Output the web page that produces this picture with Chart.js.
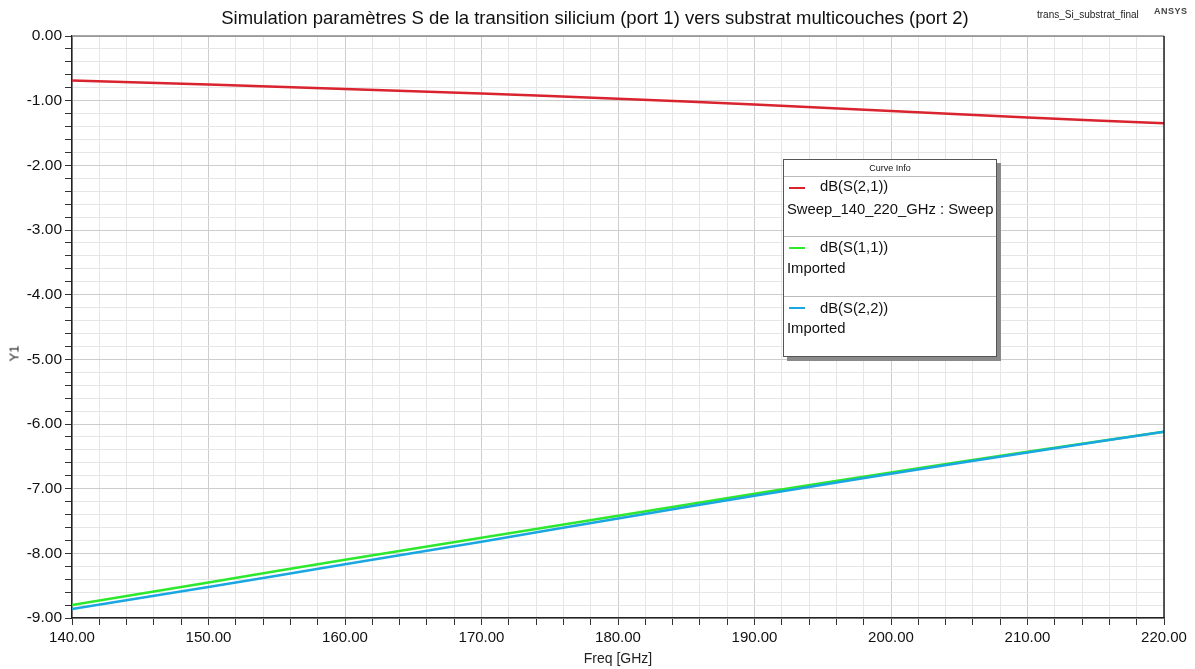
<!DOCTYPE html>
<html>
<head>
<meta charset="utf-8">
<script src="https://cdn.jsdelivr.net/npm/chart.js@4.4.0/dist/chart.umd.min.js"></script>
<style>
  html,body{margin:0;padding:0;background:#fff;}
  #wrap{position:relative;width:1195px;height:669px;font-family:"Liberation Sans",Arial,sans-serif;}
  #title{position:absolute;left:0;width:1190px;top:7px;text-align:center;font-size:18.5px;color:#111;}
  #proj{position:absolute;left:1037px;top:9px;font-size:10px;color:#222;}
  #ansys{position:absolute;left:1154px;top:6px;font-size:9px;font-weight:bold;color:#444;letter-spacing:0.5px;}
  #ylab{position:absolute;left:4px;top:346px;font-size:13px;color:#222;transform:rotate(-90deg);transform-origin:center;width:20px;text-align:center;}
  #legend{position:absolute;left:783px;top:159px;width:212px;height:196px;border:1px solid #555;background:#fff;box-shadow:4px 4px 0 #8a8a8a;color:#111;}
  #legend .hdr{position:absolute;left:0;width:212px;top:3px;text-align:center;font-size:9px;}
  #legend .sep{position:absolute;left:0;width:212px;height:1px;background:#bbb;}
  #legend .mk{position:absolute;left:5px;width:16px;height:2px;}
  #legend .t{position:absolute;font-size:14.8px;white-space:nowrap;}
  canvas{position:absolute;left:0;top:0;}
</style>
</head>
<body>
<div id="wrap">
  <canvas id="c" width="1195" height="669"></canvas>
  <div id="title">Simulation paramètres S de la transition silicium (port 1) vers substrat multicouches (port 2)</div>
  <div id="proj">trans_Si_substrat_final</div>
  <div id="ansys">ANSYS</div>
  <div id="ylab">Y1</div>
  <div id="legend">
    <div class="hdr">Curve Info</div>
    <div class="sep" style="top:16px"></div>
    <div class="mk" style="top:27px;background:#d9232e"></div>
    <div class="t" style="left:36px;top:18px">dB(S(2,1))</div>
    <div class="t" style="left:3px;top:41px">Sweep_140_220_GHz : Sweep</div>
    <div class="sep" style="top:76px"></div>
    <div class="mk" style="top:87px;background:#2ee82e"></div>
    <div class="t" style="left:36px;top:79px">dB(S(1,1))</div>
    <div class="t" style="left:3px;top:100px">Imported</div>
    <div class="sep" style="top:136px"></div>
    <div class="mk" style="top:147px;background:#1aa6e0"></div>
    <div class="t" style="left:36px;top:140px">dB(S(2,2))</div>
    <div class="t" style="left:3px;top:160px">Imported</div>
  </div>
</div>
<script>
const freqs = [140, 150, 160, 170, 180, 190, 200, 210, 220];
const s21 = [-0.69, -0.75, -0.82, -0.89, -0.97, -1.06, -1.16, -1.26, -1.35];
const s11 = [-8.80, -8.45, -8.10, -7.76, -7.42, -7.08, -6.75, -6.43, -6.12];
const s22 = [-8.86, -8.52, -8.17, -7.82, -7.46, -7.11, -6.77, -6.44, -6.12];
const seriesNames = ["dB(S(2,1))", "dB(S(1,1))", "dB(S(2,2))"];

const pts = (ys) => freqs.map((x, i) => ({x: x, y: ys[i]}));
const isMajor = (v, step) => Math.abs(v / step - Math.round(v / step)) < 1e-6;

const frame = {
  id: 'frame',
  afterDatasetsDraw(chart) {
    const a = chart.chartArea, ctx = chart.ctx;
    ctx.save();
    ctx.lineWidth = 1.5;
    ctx.strokeStyle = '#888';
    ctx.beginPath(); ctx.moveTo(a.left, a.top); ctx.lineTo(a.right, a.top); ctx.stroke();
    ctx.strokeStyle = '#222';
    ctx.beginPath(); ctx.moveTo(a.right, a.top); ctx.lineTo(a.right, a.bottom); ctx.stroke();
    ctx.restore();
  }
};

new Chart(document.getElementById('c'), {
  type: 'line',
  data: {
    datasets: [
      {label: seriesNames[0], data: pts(s21), borderColor: '#d9232e', borderWidth: 2.5, pointRadius: 0, tension: 0.3, order: 3},
      {label: seriesNames[1], data: pts(s11), borderColor: '#2ee82e', borderWidth: 2.5, pointRadius: 0, tension: 0.3, order: 2},
      {label: seriesNames[2], data: pts(s22), borderColor: '#1aa6e0', borderWidth: 2.5, pointRadius: 0, tension: 0.3, order: 1}
    ]
  },
  options: {
    responsive: false,
    animation: false,
    layout: {padding: {top: 36, right: 31, left: 0, bottom: 0}},
    plugins: {legend: {display: false}, tooltip: {enabled: false}},
    scales: {
      x: {
        type: 'linear', min: 140, max: 220,
        afterFit: (s) => { s.height = 51; },
        ticks: {
          stepSize: 2, autoSkip: false, maxRotation: 0, padding: 4,
          color: '#111', font: {family: 'Liberation Sans', size: 15},
          callback: (v) => isMajor(v, 10) ? v.toFixed(2) : ''
        },
        grid: {
          color: (c) => isMajor(c.tick.value, 10) ? '#cdcdcd' : '#e6e6e6',
          tickColor: '#333', tickLength: 7, lineWidth: 1
        },
        border: {color: '#222', width: 1.5},
        title: {display: true, text: 'Freq [GHz]', color: '#222', font: {family: 'Liberation Sans', size: 14}, padding: {top: 0, bottom: 1}}
      },
      y: {
        type: 'linear', min: -9, max: 0,
        afterFit: (s) => { s.width = 72; },
        ticks: {
          stepSize: 0.2, autoSkip: false, padding: 3,
          color: '#111', font: {family: 'Liberation Sans', size: 15.5},
          callback: (v) => isMajor(v, 1) ? Number(v).toFixed(2) : ''
        },
        grid: {
          color: (c) => isMajor(c.tick.value, 1) ? '#cdcdcd' : '#e6e6e6',
          tickColor: '#333', tickLength: 7, lineWidth: 1
        },
        border: {color: '#222', width: 1.5},
        title: {display: false}
      }
    }
  },
  plugins: [frame]
});
</script>
</body>
</html>
